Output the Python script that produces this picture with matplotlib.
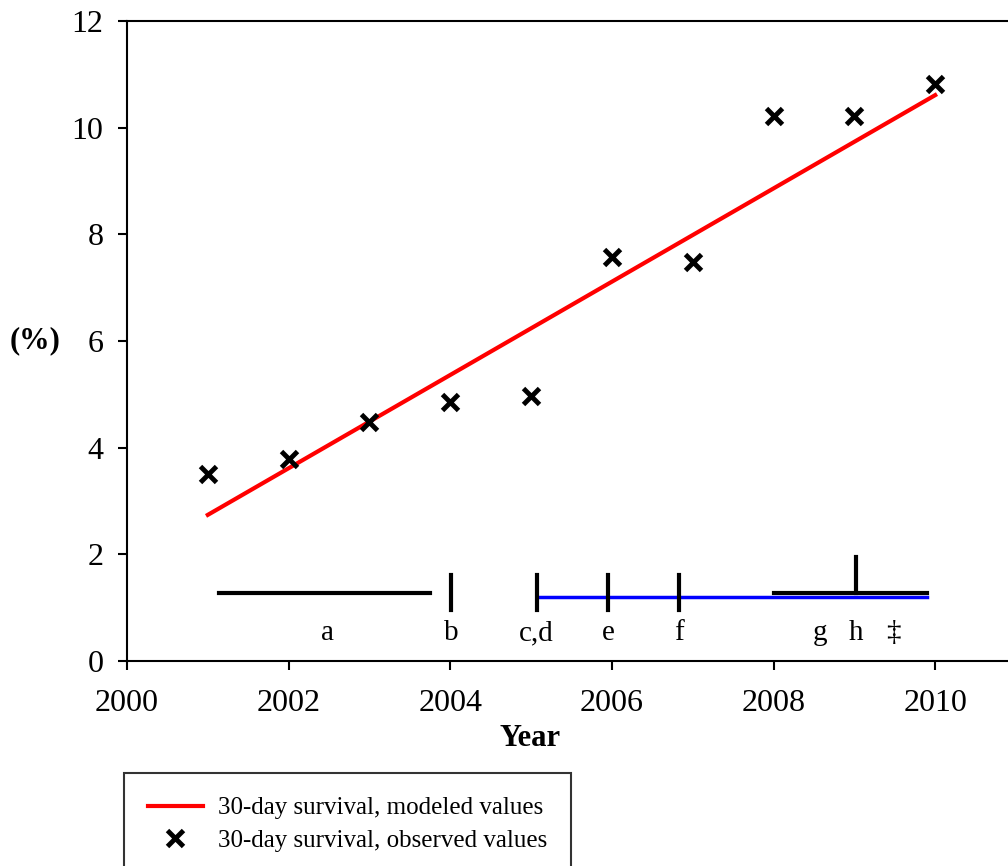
import matplotlib
matplotlib.use("Agg")
import matplotlib.pyplot as plt
import numpy as np

plt.rcParams['font.family'] = ['Liberation Serif', 'DejaVu Serif']

years = [2001, 2002, 2003, 2004, 2005, 2006, 2007, 2008, 2009, 2010]
observed = [3.51, 3.79, 4.48, 4.86, 4.97, 7.58, 7.48, 10.22, 10.22, 10.82]
model_x = [2001, 2010]
model_y = [2.74, 10.61]

# timeline annotations
period_a = ([2001.14, 2003.75], [1.275, 1.275])
period_blue = ([2005.07, 2009.9], [1.20, 1.20])
period_gh = ([2008.0, 2009.9], [1.275, 1.275])
ticks_x = [2004.01, 2005.07, 2005.95, 2006.83]
ticks_lo, ticks_hi = 0.96, 1.61
tick_h = (2009.02, 1.275, 1.95)
label_texts = ['a', 'b', 'c,d', 'e', 'f', 'g', 'h', '\u2021']
label_x = [2002.48, 2004.01, 2005.07, 2005.95, 2006.83, 2008.58, 2009.02, 2009.48]
label_y = 0.52

fig = plt.figure(figsize=(10.08, 8.66), dpi=100)
W, H = 1008, 866
ax = fig.add_axes([127 / W, (H - 661) / H, (1016 - 127) / W, (661 - 21) / H])

ax.plot(model_x, model_y, color='#ff0000', lw=3, label='30-day survival, modeled values', zorder=3)
ax.plot(years, observed, ls='none', marker='x', ms=12, mew=3.5, color='black',
        label='30-day survival, observed values', zorder=4)

ax.plot(*period_a, color='black', lw=3)
ax.plot(*period_blue, color='#0000ff', lw=2.5)
ax.plot(*period_gh, color='black', lw=3)
for tx in ticks_x:
    ax.plot([tx, tx], [ticks_lo, ticks_hi], color='black', lw=3)
ax.plot([tick_h[0], tick_h[0]], [tick_h[1], tick_h[2]], color='black', lw=3)
for t, x in zip(label_texts, label_x):
    ax.text(x, label_y, t, ha='center', va='center', fontsize=21)

ax.set_xlim(2000, 2011)
ax.set_ylim(0, 12)
ax.set_xticks([2000, 2002, 2004, 2006, 2008, 2010])
ax.set_yticks([0, 2, 4, 6, 8, 10, 12])
ax.tick_params(direction='out', length=6.5, width=1.5, labelsize=23)
ax.tick_params(axis='x', pad=13.5)
ax.tick_params(axis='y', pad=10.5)
for s in ['left', 'bottom', 'top']:
    ax.spines[s].set_linewidth(1.5)
ax.spines['right'].set_visible(False)

ax.set_xlabel('Year', fontsize=22, fontweight='bold', va='center')
ax.xaxis.set_label_coords((530 - 127) / 889, -(738 - 661) / 640)
ax.set_ylabel('(%)', fontsize=22, fontweight='bold', rotation=0, va='center', ha='center')
ax.yaxis.set_label_coords((35 - 127) / 889, (661 - 341) / 640)

leg = fig.legend(loc='upper left', bbox_to_anchor=(124 / W, 1 - 773 / H), fontsize=18,
                 frameon=True, fancybox=False, edgecolor='black', borderpad=0.95,
                 handlelength=2.2, handletextpad=0.6, labelspacing=0.4, borderaxespad=0)
leg.get_frame().set_linewidth(1.5)

fig.savefig('out.png', dpi=100)
